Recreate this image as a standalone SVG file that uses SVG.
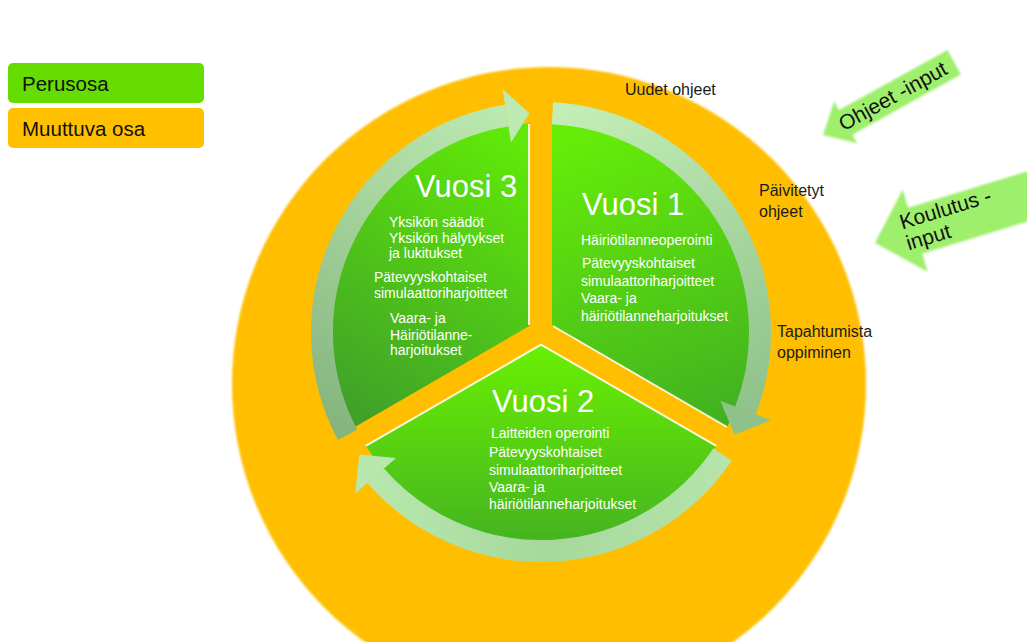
<svg xmlns="http://www.w3.org/2000/svg" width="1027" height="642" viewBox="0 0 1027 642">
<style>
text{font-family:"Liberation Sans",Arial,sans-serif;}
.lbl{font-size:16px;fill:#1a1a1a;}
.leg{font-size:20.5px;fill:#111;}
.title{font-size:31px;fill:#fff;}
.item{font-size:14px;fill:#fff;}
.inp{font-size:21px;fill:#111;}
.ring{fill:none;stroke-width:22;}
.hl{fill:none;stroke:#fff;stroke-width:2;opacity:0.85;}
</style>
<defs>
<filter id="soft" x="-5%" y="-5%" width="110%" height="110%"><feGaussianBlur stdDeviation="1.2"/></filter>
<linearGradient id="g1" gradientUnits="userSpaceOnUse" x1="600" y1="130" x2="720" y2="440"><stop offset="0" stop-color="#66ec08"/><stop offset="1" stop-color="#3fae22"/></linearGradient>
<linearGradient id="g2" gradientUnits="userSpaceOnUse" x1="541" y1="345" x2="541" y2="545"><stop offset="0" stop-color="#6af002"/><stop offset="1" stop-color="#44b321"/></linearGradient>
<linearGradient id="g3" gradientUnits="userSpaceOnUse" x1="525" y1="150" x2="350" y2="430"><stop offset="0" stop-color="#60e808"/><stop offset="1" stop-color="#3d9e2a"/></linearGradient>
<linearGradient id="r1" gradientUnits="userSpaceOnUse" x1="560" y1="110" x2="745" y2="420"><stop offset="0" stop-color="#c4eeb8"/><stop offset="1" stop-color="#8fc18a"/></linearGradient>
<linearGradient id="r2" gradientUnits="userSpaceOnUse" x1="725" y1="455" x2="360" y2="470"><stop offset="0" stop-color="#b6e4aa"/><stop offset="0.5" stop-color="#a6d89c"/><stop offset="1" stop-color="#b8e8ae"/></linearGradient>
<linearGradient id="r3" gradientUnits="userSpaceOnUse" x1="345" y1="435" x2="520" y2="110"><stop offset="0" stop-color="#86b47e"/><stop offset="1" stop-color="#bdeab2"/></linearGradient>
</defs>

<g id="legend">
<rect x="8" y="63" width="196" height="40" rx="5" fill="#66dd00"/>
<text class="leg" x="22" y="91">Perusosa</text>
<rect x="8" y="108" width="196" height="40" rx="5" fill="#ffc000"/>
<text class="leg" x="22" y="136">Muuttuva osa</text>
</g>

<g id="outer-ring">
<circle cx="549" cy="384" r="317" fill="#ffbf00" filter="url(#soft)"/>
<text class="lbl" x="625" y="95">Uudet ohjeet</text>
<text class="lbl" x="759" y="196">Päivitetyt</text>
<text class="lbl" x="759" y="217">ohjeet</text>
<text class="lbl" x="777" y="337">Tapahtumista</text>
<text class="lbl" x="777" y="358">oppiminen</text>
</g>

<g id="input-ohjeet" transform="translate(823,135) rotate(-29)">
<polygon points="0,0 26,-24 26,-14 150,-14 150,14 26,14 26,24" fill="#9eef6c" filter="url(#soft)"/>
<text class="inp" x="80" y="7" text-anchor="middle">Ohjeet -input</text>
</g>

<g id="input-koulutus" transform="translate(875,243) rotate(-17)">
<polygon points="0,0 42,-43 42,-24 220,-24 220,24 42,24 42,43" fill="#9eef6c" filter="url(#soft)"/>
<text class="inp" x="30" y="-5">Koulutus -</text>
<text class="inp" x="30" y="17">input</text>
</g>

<g id="vuosi1">
<path d="M552,325.6 L552,123.3 A209,209 0 0 1 727.2,426.9 Z" fill="url(#g1)"/>
<path class="hl" d="M553,326 L727,427"/>
<text class="title" x="582" y="215">Vuosi 1</text>
<text class="item" x="581" y="245">Häiriötilanneoperointi</text>
<text class="item" x="582" y="268">Pätevyyskohtaiset</text>
<text class="item" x="581" y="286">simulaattoriharjoitteet</text>
<text class="item" x="581" y="303">Vaara- ja</text>
<text class="item" x="581" y="321">häiriötilanneharjoitukset</text>
</g>

<g id="vuosi2">
<path d="M541,344.7 L716.2,445.9 A209,209 0 0 1 365.8,445.9 Z" fill="url(#g2)"/>
<path class="hl" d="M365.8,445.9 L541,344.7 L716.2,445.9" opacity="0.35"/>
<text class="title" x="492" y="412">Vuosi 2</text>
<text class="item" x="491" y="438">Laitteiden operointi</text>
<text class="item" x="489" y="457">Pätevyyskohtaiset</text>
<text class="item" x="489" y="475">simulaattoriharjoitteet</text>
<text class="item" x="489" y="492">Vaara- ja</text>
<text class="item" x="489" y="509">häiriötilanneharjoitukset</text>
</g>

<g id="vuosi3">
<path d="M530,325.6 L354.8,426.9 A209,209 0 0 1 530,123.3 Z" fill="url(#g3)"/>
<path class="hl" d="M529,124 L529,325"/>
<text class="title" x="415" y="197">Vuosi 3</text>
<text class="item" x="389" y="227">Yksikön säädöt</text>
<text class="item" x="389" y="243">Yksikön hälytykset</text>
<text class="item" x="389" y="258">ja lukitukset</text>
<text class="item" x="374" y="282">Pätevyyskohtaiset</text>
<text class="item" x="374" y="298">simulaattoriharjoitteet</text>
<text class="item" x="390" y="323">Vaara- ja</text>
<text class="item" x="390" y="340">Häiriötilanne-</text>
<text class="item" x="390" y="355">harjoitukset</text>
</g>

<g id="connectors">
<path class="ring" stroke="url(#r1)" d="M552.5,113.3 A219,219 0 0 1 745.5,410.5"/>
<polygon points="720.3,400.8 770.7,420.2 734.4,434.8" fill="#8fc18a"/>
<path class="ring" stroke="url(#r2)" d="M722.6,454.5 A219,219 0 0 1 375.7,475.7"/>
<polygon points="396.1,458 355.3,493.4 359.4,454.5" fill="#b8e8ae"/>
<path class="ring" stroke="url(#r3)" d="M347.6,434.8 A219,219 0 0 1 506.7,115.7"/>
<polygon points="511,142.4 502.5,89 529.5,113.3" fill="#bdeab2"/>
</g>
</svg>
